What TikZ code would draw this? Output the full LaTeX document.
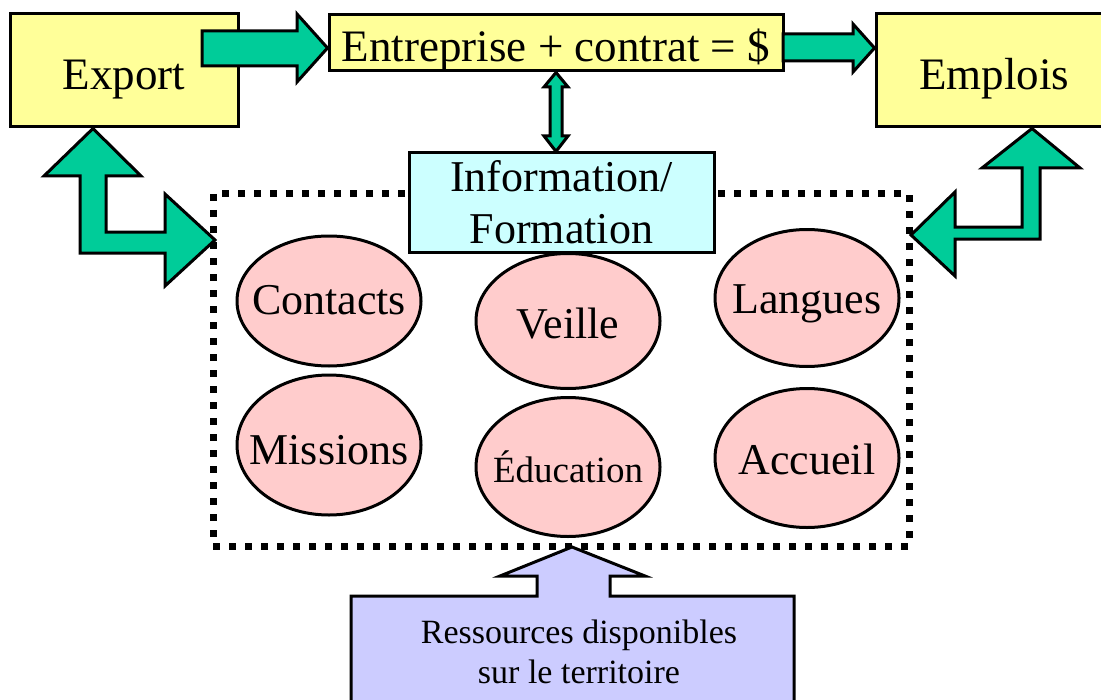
\documentclass[tikz,border=0pt]{standalone}
\usepackage{fontspec}
\setmainfont{Liberation Serif}
\usepackage{xcolor}
\usetikzlibrary{shapes.geometric}
\definecolor{jaune}{HTML}{FFFF99}
\definecolor{ciel}{HTML}{CCFFFF}
\definecolor{rose}{HTML}{FFCCCC}
\definecolor{lavande}{HTML}{CCCCFF}
\definecolor{vert}{HTML}{00CC99}

\tikzset{
  boite/.style={draw, line width=1.5pt, fill=jaune, inner sep=0pt,
    text height=19.5pt, text depth=0pt, font=\fontsize{22.5}{27}\selectfont},
  bulle/.style={ellipse, draw, line width=1.5pt, fill=rose, inner sep=0pt,
    minimum width=92pt, text height=15pt, text depth=0pt,
    font=\fontsize{22}{26}\selectfont},
  fleche/.style={draw, line width=1.5pt, fill=vert, line join=miter},
}

\begin{document}
\begin{tikzpicture}[x=0.5pt, y=-0.5pt]
        \useasboundingbox (0,0) rectangle (1101,700);
        \clip (0,0) rectangle (1101,700);

        % Cadre pointille des ressources
        \draw[line width=3.5pt, dash pattern=on 3.5pt off 4.5pt] (213,194) rectangle (909,546);

        % Boites du haut
        \node[boite, minimum width=114pt, minimum height=56.5pt] (export) at (124,70.5) {Export};
        \node[boite, minimum width=227pt, minimum height=28pt, text height=19pt] (entreprise) at (556,43) {Entreprise + contrat = \$};
        \node[boite, minimum width=118pt, minimum height=56.5pt] (emplois) at (994,70.5) {Emplois};

        % Information / Formation
        \node[draw, line width=1.5pt, fill=ciel, inner sep=0pt, minimum width=152.5pt, minimum height=49.5pt,
          align=center, font=\fontsize{22}{26}\selectfont] (info) at (561.5,202.5) {Information/\\Formation};

        % Les six bulles
        \node[bulle, minimum height=65pt, text height=13pt] (contacts) at (329,301) {\makebox[0pt]{Contacts}};
        \node[bulle, minimum height=67.5pt, text height=17pt] (veille) at (568,321) {\makebox[0pt]{Veille}};
        \node[bulle, minimum height=68.5pt] (langues) at (807,298) {\makebox[0pt]{Langues}};
        \node[bulle, minimum height=70pt, text height=19pt] (missions) at (329,445) {\makebox[0pt]{Missions}};
        \node[bulle, minimum height=69.5pt, font=\fontsize{18.5}{22}\selectfont] (education) at (568,467) {\makebox[0pt]{Éducation}};
        \node[bulle, minimum height=69.5pt, text height=16pt] (accueil) at (807,458) {\makebox[0pt]{Accueil}};

        % Fleches vertes
        \draw[fleche] (202,31) -- (297,31) -- (297,14) -- (entreprise.west |- 0,48) -- (297,82) -- (297,66) -- (202,66) -- cycle;
        \draw[fleche] (783,34) -- (853,34) -- (853,24) -- (emplois.west |- 0,48) -- (853,72) -- (853,61) -- (783,61) -- cycle;
        \draw[fleche] (entreprise.south) -- (568,87) -- (562,87) -- (562,136) -- (568,136) -- (info.north -| 556,0)
          -- (544,136) -- (550,136) -- (550,87) -- (544,87) -- cycle;
        \draw[fleche] (export.south -| 93,0) -- (141,176) -- (106,176) -- (106,232) -- (165,232) -- (165,194) -- (215,240)
          -- (165,286) -- (165,253) -- (80,253) -- (80,176) -- (44,176) -- cycle;
        \draw[fleche] (emplois.south -| 1032,0) -- (1080,168) -- (1040,168) -- (1040,239) -- (955,239) -- (955,276) -- (911,235)
          -- (955,192) -- (955,227) -- (1022,227) -- (1022,168) -- (982,168) -- cycle;

        % Ressources disponibles
        \draw[line width=1.5pt, fill=lavande, line join=miter] (351,596) -- (537,596) -- (537,576) -- (500,576) -- (572,547)
          -- (645,576) -- (610,576) -- (610,596) -- (794,596) -- (794,712) -- (351,712) -- cycle;
        \node[align=center, font=\fontsize{17}{20}\selectfont] (ressources) at (579,652) {Ressources disponibles\\sur le territoire};
    \end{tikzpicture}
\end{document}
